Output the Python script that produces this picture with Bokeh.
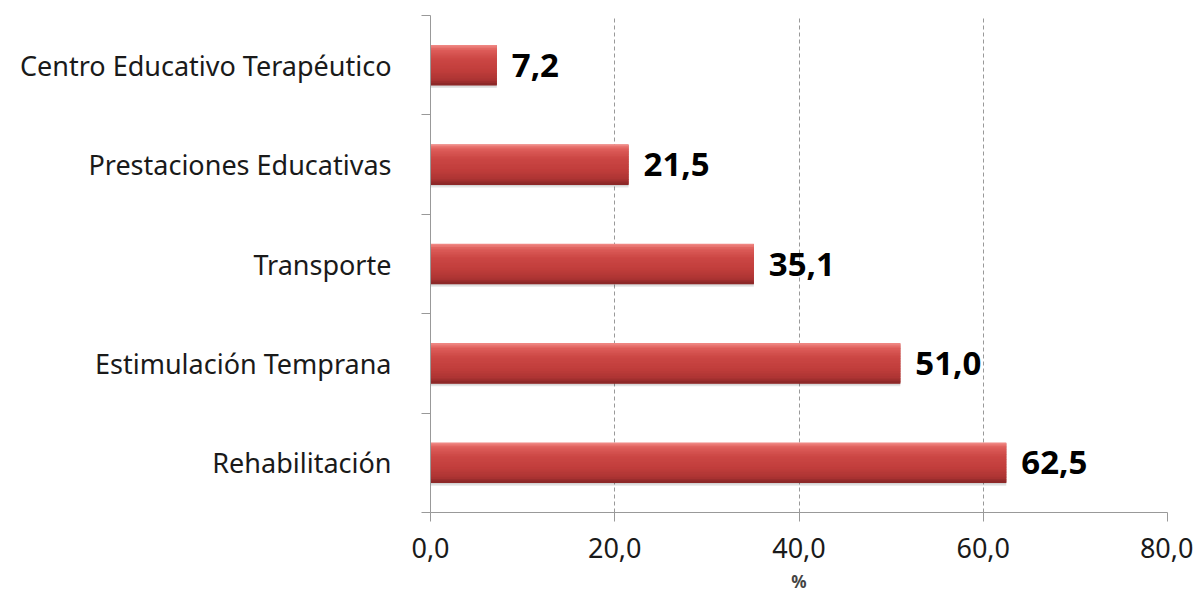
from bokeh.plotting import figure
from bokeh.models import Range1d, FixedTicker, ColumnDataSource
from bokeh.core.properties import value
from bokeh.transform import dodge
from bokeh.embed import file_html
from bokeh.resources import INLINE

categories = ["Rehabilitación", "Estimulación Temprana", "Transporte",
              "Prestaciones Educativas", "Centro Educativo Terapéutico"]
values = [62.5, 51.0, 35.1, 21.5, 7.2]
x_ticks = [0, 20, 40, 60, 80]

n = len(categories)
centers = [i + 0.5 for i in range(n)]
labels = [f"{v:.1f}".replace(".", ",") for v in values]
src = ColumnDataSource(dict(y=centers, v=values, lab=labels))

FONT = "Noto Sans"
p = figure(width=1193, height=598, output_backend="svg", toolbar_location=None,
           x_range=Range1d(0, 80), y_range=Range1d(0, n))
p.min_border_left = 430
p.min_border_right = 26
p.min_border_top = 15
p.min_border_bottom = 86
p.outline_line_color = None
p.background_fill_color = "white"

BAR_H = 0.40

# soft shadow under the bars
p.hbar(y=dodge("y", -0.03, range=p.y_range), left=0, right="v", height=BAR_H,
       source=src, fill_color="black", fill_alpha=0.10, line_color=None)
p.hbar(y=dodge("y", -0.015, range=p.y_range), left=0, right="v", height=BAR_H,
       source=src, fill_color="black", fill_alpha=0.08, line_color=None)

# base bar (mid colour)
p.hbar(y="y", left=0, right="v", height=BAR_H, source=src,
       fill_color="#C43F3D", line_color=None)

# vertical gradient: key colours from top to bottom
keys = [(0.00, (0xF2, 0x8E, 0x8A)), (0.12, (0xDE, 0x5E, 0x5A)),
        (0.35, (0xCC, 0x47, 0x45)), (0.65, (0xC0, 0x3D, 0x3B)),
        (0.88, (0xAC, 0x34, 0x33)), (1.00, (0x86, 0x26, 0x26))]


def col_at(t):
    for (t0, c0), (t1, c1) in zip(keys[:-1], keys[1:]):
        if t0 <= t <= t1:
            f = (t - t0) / (t1 - t0)
            return "#%02x%02x%02x" % tuple(int(round(a + (b - a) * f)) for a, b in zip(c0, c1))
    return "#%02x%02x%02x" % keys[-1][1]


N_STRIPS = 24
sh = BAR_H / N_STRIPS
for k in range(N_STRIPS):
    off = BAR_H / 2 - sh * (k + 0.5)
    p.hbar(y=dodge("y", off, range=p.y_range), left=0, right="v", height=sh * 1.5,
           source=src, fill_color=col_at((k + 0.5) / N_STRIPS), line_color=None)

p.text(x="v", y="y", text="lab", source=src, x_offset=15,
       text_font=value(FONT), text_font_style="bold", text_font_size="33px",
       text_baseline="middle", text_align="left", text_color="black")

# x axis
p.xaxis.ticker = FixedTicker(ticks=x_ticks, minor_ticks=[])
p.xaxis.major_label_overrides = {t: f"{t:.1f}".replace(".", ",") for t in x_ticks}
p.xaxis.axis_line_color = "#999999"
p.xaxis.major_tick_line_color = "#999999"
p.xaxis.major_tick_out = 9
p.xaxis.major_tick_in = 0
p.xaxis.major_label_standoff = 16
p.xaxis.major_label_text_font = FONT
p.xaxis.major_label_text_font_size = "27px"
p.xaxis.major_label_text_color = "#1a1a1a"
p.xaxis.axis_label = "%"
p.xaxis.axis_label_text_font = FONT
p.xaxis.axis_label_text_font_style = "bold"
p.xaxis.axis_label_text_font_size = "17px"
p.xaxis.axis_label_standoff = 9

# y axis
p.yaxis.ticker = FixedTicker(ticks=centers, minor_ticks=[float(i) for i in range(n + 1)])
p.yaxis.major_label_overrides = {c: cat for c, cat in zip(centers, categories)}
p.yaxis.axis_line_color = "#999999"
p.yaxis.major_tick_line_color = None
p.yaxis.major_tick_out = 0
p.yaxis.major_tick_in = 0
p.yaxis.minor_tick_line_color = "#999999"
p.yaxis.minor_tick_out = 9
p.yaxis.minor_tick_in = 0
p.yaxis.major_label_standoff = 30
p.yaxis.major_label_text_font = FONT
p.yaxis.major_label_text_font_size = "27px"
p.yaxis.major_label_text_color = "#1a1a1a"

p.ygrid.visible = False
p.xgrid.ticker = FixedTicker(ticks=x_ticks[1:])
p.xgrid.grid_line_color = "#999999"
p.xgrid.grid_line_dash = "4 3"
p.xgrid.grid_line_width = 1

open("out.html", "w").write(file_html(p, INLINE))
